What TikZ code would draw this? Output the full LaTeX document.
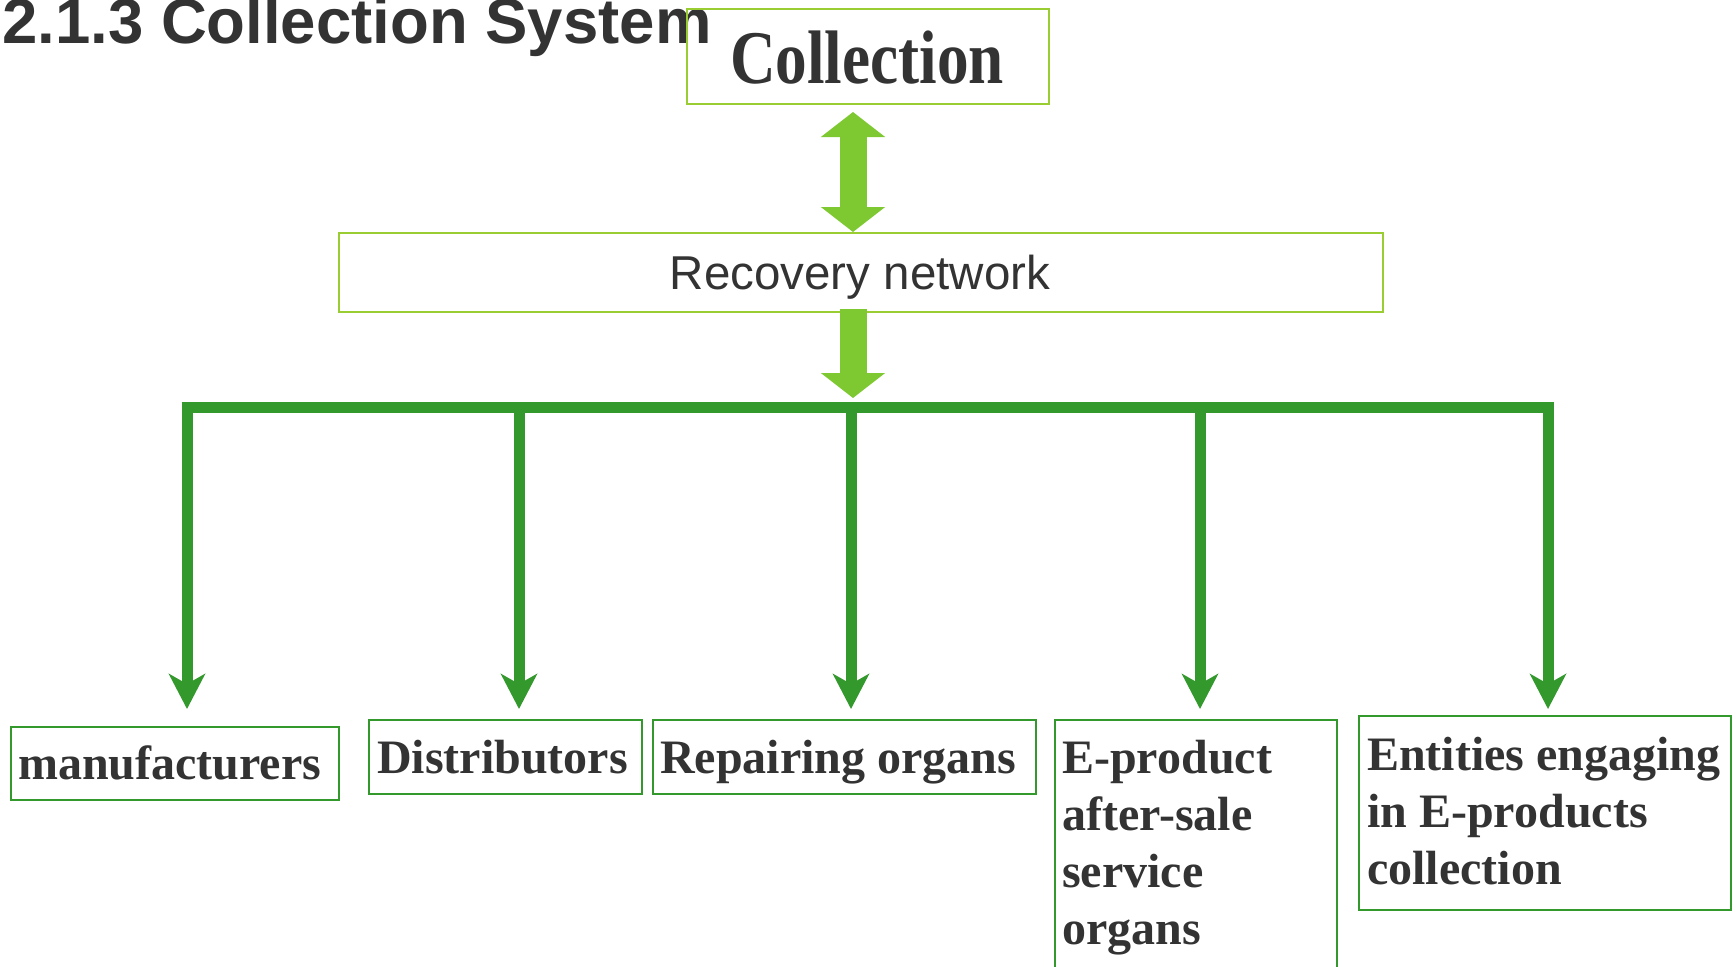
\documentclass[tikz,border=0pt]{standalone}
\usepackage{fontspec}
\setmainfont{Liberation Serif}
\newfontfamily\arialf{Liberation Sans}
\usetikzlibrary{arrows.meta,calc}
\definecolor{dgreen}{RGB}{51,153,45}
\definecolor{lgreen}{RGB}{154,205,50}
\definecolor{agreen}{RGB}{126,200,50}
\definecolor{txt}{RGB}{51,51,51}
\begin{document}
\begin{tikzpicture}[x=1pt,y=-1pt,
  topbox/.style={draw=lgreen, line width=2pt, inner sep=0pt, anchor=north west},
  botbox/.style={draw=dgreen, line width=2pt, inner sep=0pt, anchor=north west},
  lbl/.style={anchor=base west, inner sep=0pt, text=txt, font=\fontsize{48}{57}\selectfont\bfseries, align=left},
  fatboth/.style={draw=agreen, line width=27pt, {Triangle[width=63pt,length=25pt]}-{Triangle[width=63pt,length=25pt]}},
  fatdown/.style={draw=agreen, line width=27pt, -{Triangle[width=63pt,length=25pt]}},
  branch/.style={draw=dgreen, line width=11pt, -{Stealth[length=35pt,width=36pt,inset=10pt]}},
  barline/.style={draw=dgreen, line width=11pt}
]
\useasboundingbox (0,0) rectangle (1736,966);

% title
\node[anchor=base west, inner sep=0pt, text=txt, font=\arialf\bfseries\fontsize{63.5}{70}\selectfont] (title) at (2,44) {2.1.3 Collection System};

% top boxes
\node[topbox, minimum width=362pt, minimum height=95pt] (col) at (686,8) {};
\node[anchor=base, inner sep=0pt, text=txt, font=\fontsize{63.2}{70}\selectfont\bfseries] (colt) at (867,83) {\scalebox{1}[1.2]{Collection}};
\node[topbox, minimum width=1044pt, minimum height=79pt] (rec) at (338,232) {};
\node[anchor=base, inner sep=0pt, text=txt, font=\arialf\fontsize{47.5}{55}\selectfont] (rect) at (860,289) {Recovery network};

% bottom boxes
\node[botbox, minimum width=328pt, minimum height=73pt] (m1) at (10,726) {};
\node[botbox, minimum width=273pt, minimum height=74pt] (m2) at (368,719) {};
\node[botbox, minimum width=383pt, minimum height=74pt] (m3) at (652,719) {};
\node[botbox, minimum width=282pt, minimum height=270pt] (m4) at (1054,719) {};
\node[botbox, minimum width=372pt, minimum height=194pt] (m5) at (1358,715) {};

% base anchor of a multi-line node is the baseline of its last line
\node[lbl] (m1t) at (18,779) {manufacturers};
\node[lbl] (m2t) at (377,773) {Distributors};
\node[lbl] (m3t) at (660,773) {Repairing organs};
\node[lbl] (m4t) at (1062,944) {E-product\\after-sale\\service\\organs};
\node[lbl] (m5t) at (1367,884) {Entities engaging\\in E-products\\collection};

% fat arrows
\coordinate (ax) at (853,0);
\coordinate (bar) at (0,407);
\draw[fatboth, shorten <=7pt] (ax |- col.south) -- (ax |- rec.north);
\draw[fatdown, shorten <=-4pt, shorten >=9pt] (ax |- rec.south) -- (ax |- bar);

% distribution bar
\coordinate (bl) at (181.5,407);
\coordinate (br) at (1553.5,407);
\draw[barline] (bl) -- (br);

\coordinate (x1) at (187,402);
\coordinate (x2) at (519,402);
\coordinate (x3) at (851,402);
\coordinate (x4) at (1200,402);
\coordinate (x5) at (1548,402);
\draw[branch, shorten >=17pt] (x1) -- (x1 |- m1.north);
\draw[branch, shorten >=10pt] (x2) -- (x2 |- m2.north);
\draw[branch, shorten >=10pt] (x3) -- (x3 |- m3.north);
\draw[branch, shorten >=10pt] (x4) -- (x4 |- m4.north);
\draw[branch, shorten >=6pt] (x5) -- (x5 |- m5.north);
\end{tikzpicture}
\end{document}
